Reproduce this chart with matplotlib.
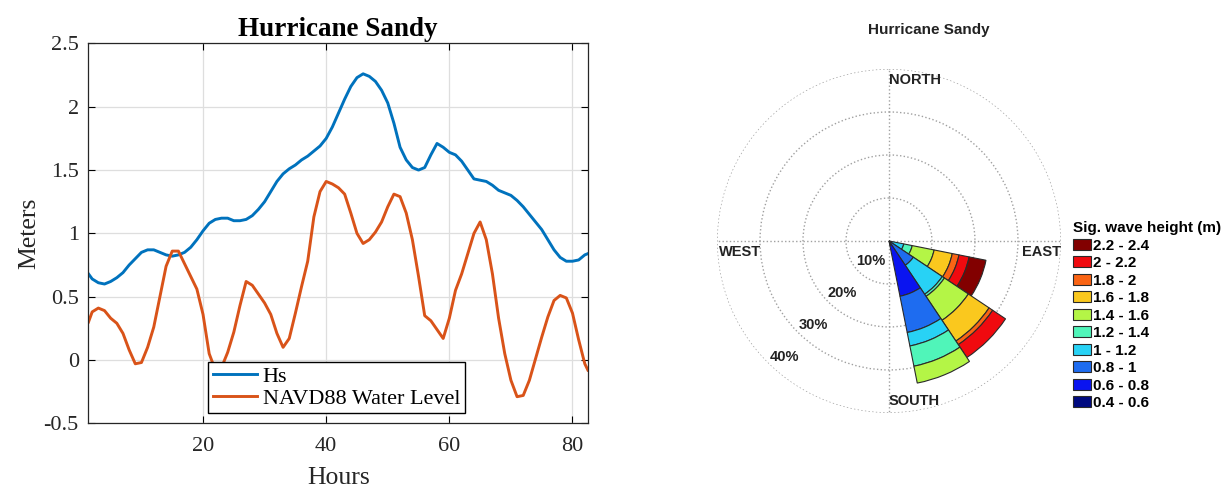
import numpy as np
import matplotlib
matplotlib.use("Agg")
import matplotlib.pyplot as plt
from matplotlib.patches import Patch
from matplotlib.ticker import FuncFormatter

plt.rcParams['axes.unicode_minus'] = False

# time series, hourly
hours = [1.4] + list(range(2, 83)) + [82.5]
hs = [0.68, 0.64, 0.61, 0.60, 0.62, 0.65, 0.69, 0.75, 0.80, 0.85,
      0.87, 0.87, 0.85, 0.83, 0.82, 0.83, 0.85, 0.89, 0.95, 1.02,
      1.08, 1.11, 1.12, 1.12, 1.10, 1.10, 1.11, 1.14, 1.19, 1.25,
      1.33, 1.41, 1.47, 1.51, 1.54, 1.58, 1.61, 1.65, 1.69, 1.75,
      1.84, 1.95, 2.06, 2.16, 2.23, 2.26, 2.24, 2.20, 2.13, 2.03,
      1.87, 1.68, 1.58, 1.52, 1.50, 1.52, 1.62, 1.71, 1.68, 1.64,
      1.62, 1.57, 1.50, 1.43, 1.42, 1.41, 1.38, 1.34, 1.32, 1.30,
      1.26, 1.21, 1.15, 1.09, 1.03, 0.95, 0.87, 0.81, 0.78, 0.78,
      0.79, 0.83, 0.84]
water_level = [0.30, 0.38, 0.41, 0.39, 0.33, 0.29, 0.21, 0.08, -0.03, -0.02,
               0.10, 0.26, 0.50, 0.74, 0.86, 0.86, 0.76, 0.66, 0.56, 0.36,
               0.05, -0.08, -0.06, 0.06, 0.22, 0.43, 0.62, 0.59, 0.52, 0.45,
               0.36, 0.21, 0.10, 0.17, 0.37, 0.58, 0.78, 1.13, 1.33, 1.41,
               1.39, 1.36, 1.31, 1.16, 1.00, 0.92, 0.95, 1.01, 1.09, 1.21,
               1.31, 1.29, 1.16, 0.95, 0.66, 0.35, 0.31, 0.24, 0.17, 0.33,
               0.55, 0.68, 0.84, 1.00, 1.09, 0.95, 0.68, 0.33, 0.05, -0.16,
               -0.29, -0.28, -0.16, 0.01, 0.18, 0.34, 0.47, 0.51, 0.49, 0.37,
               0.16, -0.03, -0.08]

# wave rose: percent of time per direction sector and height bin
bin_labels = ['0.4 - 0.6', '0.6 - 0.8', '0.8 - 1', '1 - 1.2', '1.2 - 1.4',
              '1.4 - 1.6', '1.6 - 1.8', '1.8 - 2', '2 - 2.2', '2.2 - 2.4']
bin_colors = ['#000a80', '#0a14f0', '#1e6cf0', '#28d2f5', '#50f5b9',
              '#b4f546', '#fac81e', '#fa6414', '#f00a0f', '#820000']
sector_dirs = [112.5, 135.0, 157.5]   # degrees from north, clockwise
sector_pct = [
    [0.0, 0.0, 0.5, 3.0, 2.0, 5.2, 4.3, 1.6, 2.4, 4.0],
    [0.0, 0.5, 6.3, 8.1, 0.6, 6.7, 5.8, 1.0, 3.6, 0.0],
    [1.0, 12.1, 8.6, 3.2, 4.8, 4.0, 0.0, 0.0, 0.0, 0.0],
]
ring_vals = [10, 20, 30, 40]

fig = plt.figure(figsize=(12.24, 4.87), dpi=100)

# ---- left: time series ----
serif = ['Liberation Serif', 'DejaVu Serif']
ax = fig.add_axes([0.0723, 0.1308, 0.408, 0.780])
ax.plot(hours, hs, color='#0072BD', lw=2.1, label='Hs')
ax.plot(hours, water_level, color='#D95319', lw=2.1, label='NAVD88 Water Level')
ax.set_xlim(1.4, 82.5)
ax.set_ylim(-0.5, 2.5)
ax.set_xticks([20, 40, 60, 80])
ax.set_yticks(np.arange(-0.5, 2.51, 0.5))
ax.yaxis.set_major_formatter(FuncFormatter(lambda v, p: '%g' % v))
ax.grid(True, color='#dedede', lw=0.9)
ax.set_axisbelow(True)
ax.tick_params(direction='in', top=True, right=True, length=5, width=0.8)
ax.tick_params(axis='x', pad=10)
ax.tick_params(axis='y', pad=7)
for lbl in ax.get_xticklabels() + ax.get_yticklabels():
    lbl.set_family(serif)
    lbl.set_fontsize(16)
    lbl.set_color('#262626')
for s in ax.spines.values():
    s.set_color('#262626')
    s.set_linewidth(0.9)
ax.set_xlabel('Hours', family=serif, fontsize=18.5, color='#262626', labelpad=8)
ax.set_ylabel('Meters', family=serif, fontsize=18.5, color='#262626', labelpad=2)
ax.set_title('Hurricane Sandy', family=serif, fontsize=19.5, fontweight='bold', pad=5)
leg = ax.legend(loc='lower left', bbox_to_anchor=(0.24, 0.027), borderaxespad=0,
                prop={'family': serif, 'size': 16}, fancybox=False, framealpha=1,
                edgecolor='black', handlelength=2.0, handletextpad=0.25,
                labelspacing=0.05, borderpad=0.2)
leg.get_frame().set_linewidth(1.0)

# ---- right: wave rose ----
sans = ['Liberation Sans', 'DejaVu Sans']
pax = fig.add_axes([0.5858, 0.152, 0.2810, 0.7064], projection='polar')
pax.set_theta_zero_location('N')
pax.set_theta_direction(-1)
width = np.radians(22.5)
for d, pct in zip(sector_dirs, sector_pct):
    base = 0.0
    for k, p in enumerate(pct):
        if p <= 0:
            continue
        pax.bar(np.radians(d), p, width=width, bottom=base, color=bin_colors[k],
                edgecolor='#2a2a2a', linewidth=0.8, zorder=3)
        base += p
pax.set_ylim(0, 40)
pax.set_rgrids(ring_vals, labels=[''] * len(ring_vals))
pax.set_thetagrids([0, 90, 180, 270], labels=[''] * 4)
pax.grid(True, color='#a0a0a0', linestyle=':', lw=1.0)
pax.spines['polar'].set_visible(False)
pax.set_facecolor('none')

for v in ring_vals:
    pax.text(np.radians(222), v - 3.6, '%d%%' % v, family=sans, fontsize=10.5,
             fontweight='bold', color='#222222', ha='center', va='center')
pax.text(0, 37.4, 'NORTH', family=sans, fontsize=10.5, fontweight='bold',
         ha='left', va='center', color='#222222')
pax.text(np.pi, 37.2, 'SOUTH', family=sans, fontsize=10.5, fontweight='bold',
         ha='left', va='center', color='#222222')
pax.text(np.radians(268.5), 39.6, 'WEST', family=sans, fontsize=10.5, fontweight='bold',
         ha='left', va='top', color='#222222')
pax.text(np.radians(91.5), 40, 'EAST', family=sans, fontsize=10.5, fontweight='bold',
         ha='right', va='top', color='#222222')

fig.text(929 / 1224, 1 - 30 / 487, 'Hurricane Sandy', family=sans, fontsize=11,
         fontweight='bold', ha='center', va='center', color='#222222')

handles = [Patch(facecolor=c, edgecolor='#2a2a2a', linewidth=0.8) for c in bin_colors]
fig.legend(handles[::-1], bin_labels[::-1], title='Sig. wave height (m)',
           loc='upper left', bbox_to_anchor=(1073 / 1224, 1 - 221 / 487),
           frameon=False, prop={'family': sans, 'size': 11, 'weight': 'bold'},
           title_fontproperties={'family': sans, 'size': 11, 'weight': 'bold'},
           alignment='left', handlelength=1.18, handleheight=0.72,
           handletextpad=0.12, labelspacing=0.23, borderpad=0, borderaxespad=0)

fig.savefig('out.png', dpi=100)
